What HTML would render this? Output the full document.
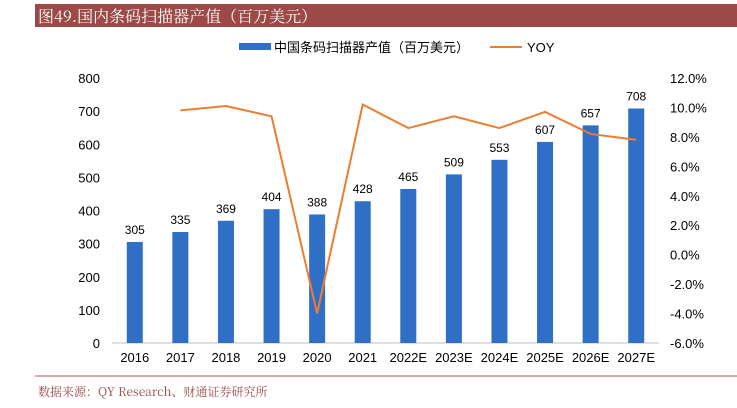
<!DOCTYPE html>
<html><head><meta charset="utf-8"><style>
body{margin:0;background:#fff;width:737px;height:403px;overflow:hidden;font-family:"Liberation Sans","Noto Sans CJK SC",sans-serif;}
</style></head><body>
<svg width="737" height="403" xmlns="http://www.w3.org/2000/svg">
<rect x="35" y="4" width="702" height="23" fill="#9b4a47"/>
<text x="38" y="22" fill="#fff" font-size="16" font-family="'Noto Serif CJK SC',serif">图49.国内条码扫描器产值（百万美元）</text>
<g>
<rect x="239" y="43" width="32" height="7" fill="#2f6fc6"/>
<text x="274" y="52" font-size="13" fill="#000">中国条码扫描器产值（百万美元）</text>
<line x1="490" y1="47" x2="522" y2="47" stroke="#ed7d31" stroke-width="2"/>
<text x="527" y="52" font-size="13" fill="#000">YOY</text>
</g>
<g id="plot"></g>
<line x1="35" y1="376" x2="737" y2="376" stroke="#b45a55" stroke-width="1"/>
<text x="38" y="396" font-size="12" fill="#9b4a47" font-family="'Noto Serif CJK SC',serif">数据来源：QY Research、财通证券研究所</text>
</svg>
<script>
const categories=["2016","2017","2018","2019","2020","2021","2022E","2023E","2024E","2025E","2026E","2027E"];
const values=[305,335,369,404,388,428,465,509,553,607,657,708];
const yoy=[null,9.8,10.1,9.4,-4.0,10.2,8.6,9.4,8.6,9.7,8.2,7.8];
const leftTicks=[0,100,200,300,400,500,600,700,800];
const rightTicks=[-6,-4,-2,0,2,4,6,8,10,12];
const NS="http://www.w3.org/2000/svg";
const g=document.getElementById('plot');
const x0=112,x1=659,yTop=78,yBot=343;
const step=(x1-x0)/categories.length;
const xc=i=>x0+step*(i+0.5);
const yL=v=>yBot-(v/800)*(yBot-yTop);
const yR=v=>yBot-((v+6)/18)*(yBot-yTop);
function mk(t,a,txt){const e=document.createElementNS(NS,t);for(const k in a)e.setAttribute(k,a[k]);if(txt!==undefined)e.textContent=txt;g.appendChild(e);return e;}
let e=mk('line',{x1:x0,y1:yBot,x2:x1,y2:yBot,stroke:'#bfbfbf'});


leftTicks.forEach(t=>{const el=mk('text',{x:100,y:yL(t)+5,'font-size':13,'text-anchor':'end',fill:'#000'},t);

});
rightTicks.forEach(t=>{const el=mk('text',{x:670,y:yR(t)+5,'font-size':13,fill:'#000'},t.toFixed(1)+'%');

});
categories.forEach((c,i)=>{
const b=mk('rect',{x:xc(i)-8,y:yL(values[i]),width:16,height:yBot-yL(values[i]),fill:'#2f6fc6'});


const v=mk('text',{x:xc(i),y:yL(values[i])-8,'font-size':12,'text-anchor':'middle',fill:'#000'},values[i]);


const l=mk('text',{x:xc(i),y:362,'font-size':13,'text-anchor':'middle',fill:'#000'},c);


});
const pts=yoy.map((v,i)=>v===null?null:xc(i)+','+yR(v)).filter(p=>p);
const pl=mk('polyline',{points:pts.join(' '),fill:'none',stroke:'#ed7d31','stroke-width':2});


</script>
</body></html>
